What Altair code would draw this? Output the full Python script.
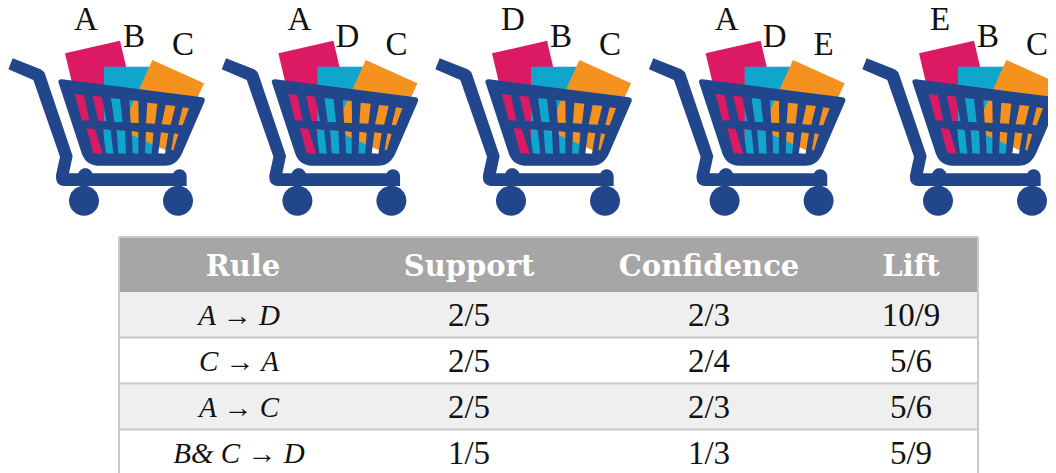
import altair as alt
import pandas as pd

# ---- values ----
cart_labels = [["A", "B", "C"], ["A", "D", "C"], ["D", "B", "C"], ["A", "D", "E"], ["E", "B", "C"]]
columns = ["Rule", "Support", "Confidence", "Lift"]
rules = ["A → D", "C → A", "A → C", "B& C  → D"]
support = ["2/5", "2/5", "2/5", "1/5"]
confidence = ["2/3", "2/4", "2/3", "1/3"]
lift = ["10/9", "5/6", "5/6", "5/9"]

# ---- layout (pixels of the page) ----
BLUE, PINK, TEAL, ORANGE = "#21468b", "#dc1a63", "#10a5cd", "#f5921f"
cart_x = [0, 213.4, 427, 640.6, 854]
letter_x = [86, 134, 183]
letter_y = [20, 37, 45]
col_x = [243, 469, 709, 911]
tbl_l, tbl_r, tbl_t = 119, 978, 237
row_edges = [292, 337.5, 383.5, 429.5, 476]
row_y = [316, 362, 408, 454]
header_y = 267

# pictogram parts in a 3x drawing grid, one cart
pink = "M195,160 L360,122 L440,465 L268,470 Z"
teal = "M312,200 L458,200 L458,462 L312,462 Z"
orange = "M457,180 L612,250 L517,460 L362,390 Z"
upper = [(225, 252, 268, 245), (278, 305, 320, 295), (333, 360, 368, 343), (388, 415, 416, 392),
         (442, 472, 465, 438), (497, 526, 512, 485), (548, 567, 548, 535)]
lower = [(260, 285, 308, 280), (308, 332, 340, 318), (350, 375, 378, 355), (395, 415, 415, 398),
         (438, 460, 455, 435), (483, 505, 495, 475), (522, 535, 520, 514)]
tops_u = [282, 287, 294, 300, 308, 315, 322]
tops_l = [384, 387, 390, 393, 395, 397, 400]
bots_u = [361, 363, 366, 368, 370, 373, 375]
bots_l = [460, 460, 460, 460, 460, 460, 450]
basket = "M175,246 Q175,237 186,238 L606,292 Q618,294 613,306 L547,458 Q530,497 495,497 L295,497 Q258,497 245,460 Z"
for (a, b, c, d), t, bt in list(zip(upper, tops_u, bots_u)) + list(zip(lower, tops_l, bots_l)):
    basket += f" M{a},{t} L{d},{bt} L{c},{bt+1} L{b},{t+3} Z"
frame = ("M38,175 L122,208 Q132,213 136,225 L218,468 L207,520 L235,520 A22,22 0 0 1 277,520 L520,520 "
         "A21,21 0 0 1 560,528 L560,558 L190,558 Q165,555 168,525 L180,470 L100,240 L25,208 Z")


def circle(cx, cy, r):
    return f"M{cx-r},{cy} A{r},{r} 0 1 1 {cx+r},{cy} A{r},{r} 0 1 1 {cx-r},{cy} Z"


parts = [(pink, PINK), (teal, TEAL), (orange, ORANGE), (basket, BLUE), (frame, BLUE),
         (circle(252, 602, 45), BLUE), (circle(534, 602, 45), BLUE)]
cart_rows = [{"x": cx, "y": 0, "path": p, "fill": f} for cx in cart_x for p, f in parts]
letter_rows = [{"x": lx + cx, "y": ly, "t": t}
               for cx, labels in zip(cart_x, cart_labels)
               for lx, ly, t in zip(letter_x, letter_y, labels)]

band_rows = [{"x": tbl_l, "x2": tbl_r, "y": tbl_t, "y2": row_edges[0], "fill": "#a6a6a6"}]
for i in range(4):
    band_rows.append({"x": tbl_l, "x2": tbl_r, "y": row_edges[i], "y2": row_edges[i + 1],
                      "fill": "#efefef" if i % 2 == 0 else "#ffffff"})
line_rows = [{"x": tbl_l, "x2": tbl_r, "y": e, "y2": e} for e in row_edges[1:4]]
line_rows += [{"x": tbl_l, "x2": tbl_r, "y": tbl_t, "y2": tbl_t}]
line_rows += [{"x": v, "x2": v, "y": tbl_t, "y2": 473} for v in (tbl_l, tbl_r)]
head_rows = [{"x": x, "y": header_y, "t": c} for x, c in zip(col_x, columns)]
rule_rows = [{"x": col_x[0] - 4, "y": y, "t": r} for y, r in zip(row_y, rules)]
cell_rows = [{"x": x, "y": y, "t": v}
             for x, vals in zip(col_x[1:], (support, confidence, lift))
             for y, v in zip(row_y, vals)]

xs = alt.Scale(domain=[8, 1048], range=[0, 1040], zero=False, nice=False)
ys = alt.Scale(domain=[8, 473], range=[0, 465], zero=False, nice=False)
X = alt.X("x:Q", scale=xs, axis=None)
Y = alt.Y("y:Q", scale=ys, axis=None)

carts = alt.Chart(pd.DataFrame(cart_rows)).mark_point(filled=True, size=4 / 9, opacity=1, strokeWidth=0).encode(
    x=X, y=Y, shape=alt.Shape("path:N", scale=None), color=alt.Color("fill:N", scale=None))
letters = alt.Chart(pd.DataFrame(letter_rows)).mark_text(
    font="Liberation Serif", fontSize=33, color="#111111", baseline="middle").encode(x=X, y=Y, text="t:N")
bands = alt.Chart(pd.DataFrame(band_rows)).mark_rect().encode(
    x=X, x2="x2:Q", y=Y, y2="y2:Q", color=alt.Color("fill:N", scale=None))
lines = alt.Chart(pd.DataFrame(line_rows)).mark_rule(color="#c9c9c9", strokeWidth=2).encode(
    x=X, x2="x2:Q", y=Y, y2="y2:Q")
heads = alt.Chart(pd.DataFrame(head_rows)).mark_text(
    font="DejaVu Serif", fontWeight="bold", fontSize=29, color="#ffffff", baseline="middle").encode(x=X, y=Y, text="t:N")
rule_text = alt.Chart(pd.DataFrame(rule_rows)).mark_text(
    font="Liberation Serif", fontStyle="italic", fontSize=29, color="#111111", baseline="middle").encode(x=X, y=Y, text="t:N")
cells = alt.Chart(pd.DataFrame(cell_rows)).mark_text(
    font="Liberation Serif", fontSize=33, color="#111111", baseline="middle").encode(x=X, y=Y, text="t:N")

chart = alt.layer(carts, letters, bands, lines, heads, rule_text, cells).properties(
    width=1040, height=465, padding=0, autosize=alt.AutoSizeParams(type="none"), background="#ffffff"
).configure_view(stroke=None)

chart.save("out.html", embed_options={"renderer": "svg", "actions": False})
